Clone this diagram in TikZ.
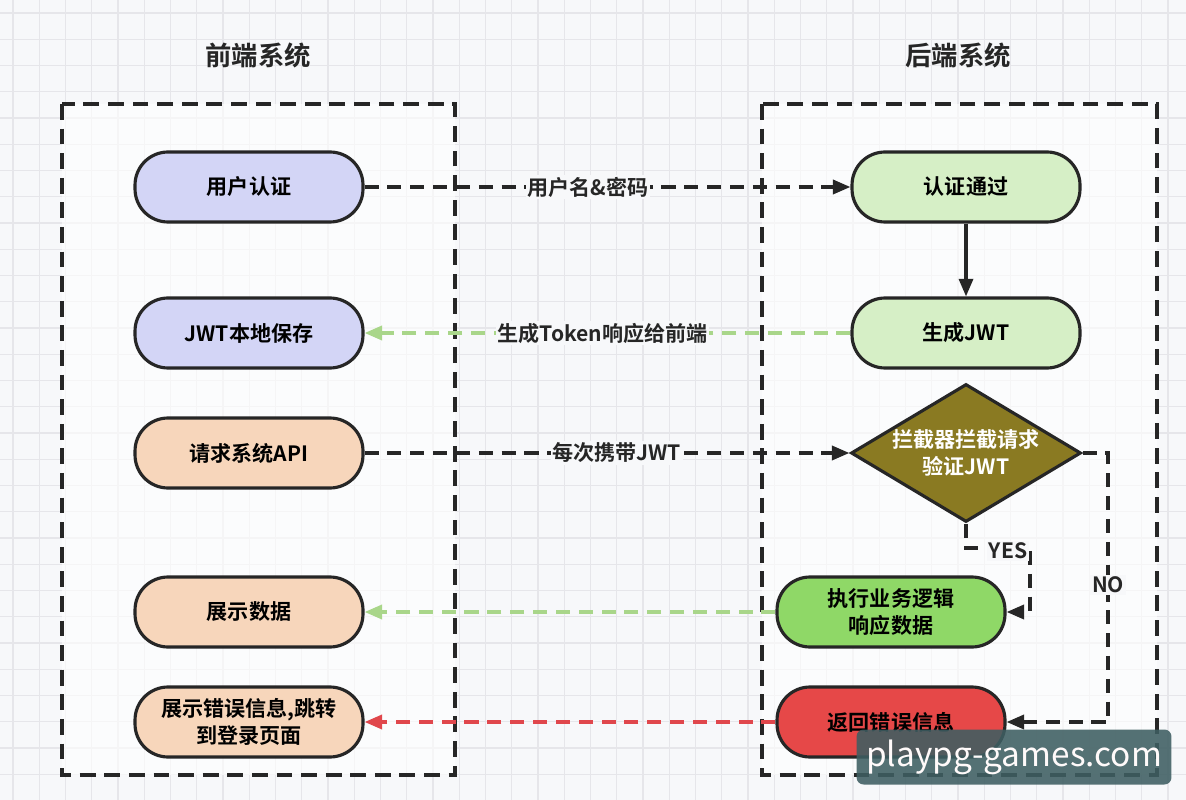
\documentclass[tikz,border=0pt]{standalone}
\usepackage{fontspec}
\setmainfont{Noto Sans CJK SC}[BoldFont={Noto Sans CJK SC Bold}]
\usetikzlibrary{arrows.meta, shapes.geometric}

\definecolor{pagebg}{HTML}{F7F8FA}
\definecolor{gridcol}{HTML}{E6E6EA}
\definecolor{lavender}{HTML}{D3D5F6}
\definecolor{peach}{HTML}{F7D6BB}
\definecolor{palegreen}{HTML}{D6EFC6}
\definecolor{olive}{HTML}{8A7A22}
\definecolor{okgreen}{HTML}{8FD867}
\definecolor{errred}{HTML}{E64848}
\definecolor{greenline}{HTML}{A9D68A}
\definecolor{redline}{HTML}{E0474C}
\definecolor{markbg}{HTML}{3E5E62}

\tikzset{
  gridline/.style={gridcol, line width=0.6pt},
  sysframe/.style={draw=black!85, line width=2pt, dash pattern=on 9pt off 5pt, fill=white, fill opacity=0.6},
  flowbox/.style={rectangle, draw=black!85, line width=1.8pt, rounded corners=0.66cm,
    minimum width=4.56cm, minimum height=1.4cm, align=center, font=\bfseries\fontsize{12}{15}\selectfont},
  decide/.style={diamond, draw=black!85, line width=1.8pt, fill=olive, text=white, inner sep=0pt,
    shape aspect=1.67, minimum width=4.6cm, minimum height=2.76cm, align=center,
    font=\bfseries\fontsize{12}{15}\selectfont},
  title/.style={font=\bfseries\fontsize{15}{18}\selectfont, text=black!85},
  tag/.style={fill=pagebg, inner sep=1pt, font=\bfseries\fontsize{12}{15}\selectfont, text=black!85},
  tip/.style={-{Triangle[length=10pt,width=8pt]}},
  dashline/.style={tip, line width=2pt, dash pattern=on 8pt off 5pt},
}

\begin{document}
\begin{tikzpicture}[x=0.02cm, y=-0.02cm]
  \useasboundingbox (0,0) rectangle (1186,800);
  % Background grid
  \fill[pagebg] (0,0) rectangle (1186,800);
  \foreach \gx in {13,39.25,...,1186} \draw[gridline] (\gx,0) -- (\gx,800);
  \foreach \gy in {13,39.25,...,800} \draw[gridline] (0,\gy) -- (1186,\gy);
  % Frames
  \draw[sysframe] (62,104) rectangle (455,775);
  \draw[sysframe] (762,104) rectangle (1157,775);
  \node (front) [title] at (258,55) {前端系统};
  \node (back) [title] at (958,55) {后端系统};
  % Front-end nodes
  \node (login) [flowbox, fill=lavender] at (249,187) {用户认证};
  \node (store) [flowbox, fill=lavender] at (249,333) {JWT本地保存};
  \node (call) [flowbox, fill=peach] at (249,453) {请求系统API};
  \node (show) [flowbox, fill=peach] at (249,612) {展示数据};
  \node (fail) [flowbox, fill=peach] at (249,722) {展示错误信息,跳转\\到登录页面};
  % Back-end nodes
  \node (auth) [flowbox, fill=palegreen] at (966,187) {认证通过};
  \node (issue) [flowbox, fill=palegreen] at (966,333) {生成JWT};
  \node (check) [decide] at (966,453) {拦截器拦截请求\\验证JWT};
  \node (run) [flowbox, fill=okgreen] at (891,612) {执行业务逻辑\\响应数据};
  \node (error) [flowbox, fill=errred] at (891,722) {返回错误信息};
  % Arrows
  \draw[dashline, black!85] (login) -- (auth) node[tag, pos=0.46] {用户名\&密码};
  \draw[tip, line width=1.8pt, black!85] (auth) -- (issue);
  \draw[dashline, greenline] (issue) -- (store) node[tag, pos=0.51, text=black!85] {生成Token响应给前端};
  \draw[dashline, black!85] (call) -- (check) node[tag, pos=0.52] {每次携带JWT};
  \coordinate (yescorner) at (1030,548);
  \draw[dashline, black!85] (check.south) |- (yescorner) |- (run.east);
  \node (yes) [tag] at (1008,551) {YES};
  \coordinate (nocorner) at (1108,722);
  \draw[dashline, black!85] (check.east) -| (nocorner) -- (error.east);
  \node (no) [tag] at (1108,585) {NO};
  \draw[dashline, greenline] (run) -- (show);
  \draw[dashline, redline] (error) -- (fail);
  % Watermark
  \node (mark) [fill=markbg, fill opacity=0.88, text opacity=1, text=white!92!pink, rounded corners=4pt,
    minimum width=6.3cm, minimum height=1.1cm, font=\fontsize{19}{22}\selectfont] at (1014,757) {playpg-games.com};
\end{tikzpicture}
\end{document}
